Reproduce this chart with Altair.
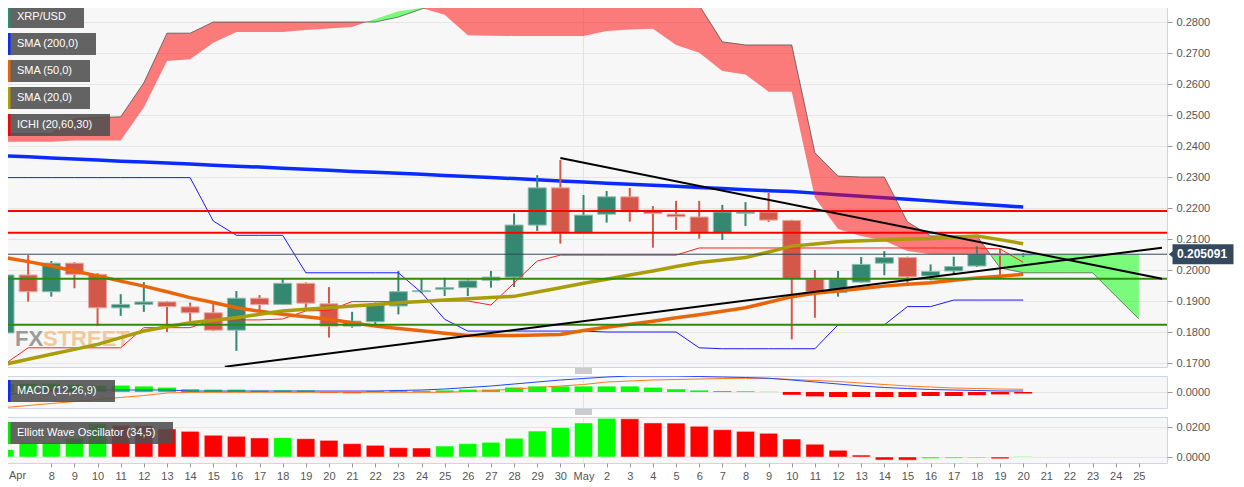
import json
import numpy as np
import pandas as pd
import altair as alt

# ---------------- data (day index 0 = 6 Apr ... 44 = 20 May) ----------------
day_index = list(range(45))
open_ = [0.1797, 0.1984, 0.1930, 0.2022, 0.1986, 0.1878, 0.1889, 0.1897, 0.1881, 0.1862,
         0.1806, 0.1909, 0.1889, 0.1957, 0.1891, 0.1819, 0.1833, 0.1884, 0.1930, 0.1938,
         0.1943, 0.1967, 0.1977, 0.2145, 0.2265, 0.2120, 0.2180, 0.2236, 0.2193, 0.2180,
         0.2171, 0.2120, 0.2183, 0.2187, 0.2160, 0.1970, 0.1927, 0.1961, 0.2022, 0.2040,
         0.1981, 0.1997, 0.2013, 0.2052, 0.2048]
high_ = [0.2000, 0.2048, 0.2029, 0.2025, 0.1990, 0.1922, 0.1961, 0.1899, 0.1895, 0.1897,
         0.1932, 0.1919, 0.1970, 0.1960, 0.1945, 0.1865, 0.1895, 0.1997, 0.1971, 0.1975,
         0.1970, 0.1997, 0.2182, 0.2306, 0.2355, 0.2242, 0.2255, 0.2265, 0.2206, 0.2223,
         0.2223, 0.2210, 0.2219, 0.2249, 0.2162, 0.2000, 0.1997, 0.2042, 0.2061, 0.2043,
         0.2018, 0.2043, 0.2077, 0.2068, 0.2055]
low_ = [0.1790, 0.1898, 0.1914, 0.1941, 0.1819, 0.1852, 0.1865, 0.1800, 0.1830, 0.1803,
        0.1739, 0.1870, 0.1887, 0.1878, 0.1782, 0.1814, 0.1825, 0.1857, 0.1925, 0.1916,
        0.1916, 0.1943, 0.1945, 0.2126, 0.2085, 0.2120, 0.2153, 0.2156, 0.2072, 0.2129,
        0.2101, 0.2097, 0.2142, 0.2155, 0.1776, 0.1846, 0.1914, 0.1959, 0.1983, 0.1959,
        0.1967, 0.1984, 0.2010, 0.1975, 0.2042]
close_ = [0.1984, 0.1930, 0.2022, 0.1986, 0.1878, 0.1889, 0.1897, 0.1882, 0.1862, 0.1806,
          0.1909, 0.1889, 0.1957, 0.1893, 0.1819, 0.1835, 0.1887, 0.1930, 0.1933, 0.1943,
          0.1965, 0.1977, 0.2145, 0.2265, 0.2120, 0.2177, 0.2236, 0.2188, 0.2182, 0.2172,
          0.2120, 0.2187, 0.2187, 0.2161, 0.1972, 0.1930, 0.1970, 0.2018, 0.2040, 0.1978,
          0.1995, 0.2011, 0.2051, 0.2048, 0.205091]

sma200 = [0.2368, 0.2365, 0.2361, 0.2358, 0.2355, 0.2351, 0.2348, 0.2345, 0.2342, 0.2338,
          0.2335, 0.2332, 0.2328, 0.2325, 0.2322, 0.2318, 0.2315, 0.2312, 0.2309, 0.2305,
          0.2302, 0.2298, 0.2295, 0.2291, 0.2287, 0.2284, 0.2280, 0.2277, 0.2273, 0.2270,
          0.2266, 0.2263, 0.2259, 0.2256, 0.2253, 0.2248, 0.2243, 0.2238, 0.2233, 0.2228,
          0.2223, 0.2218, 0.2213, 0.2208, 0.2203]
sma50 = [0.2040, 0.2027, 0.2013, 0.1997, 0.1981, 0.1964, 0.1948, 0.1930, 0.1911, 0.1895,
         0.1878, 0.1867, 0.1857, 0.1849, 0.1841, 0.1830, 0.1819, 0.1811, 0.1804, 0.1796,
         0.1789, 0.1789, 0.1789, 0.1790, 0.1792, 0.1805, 0.1815, 0.1825, 0.1835, 0.1846,
         0.1856, 0.1867, 0.1878, 0.1896, 0.1914, 0.1925, 0.1932, 0.1940, 0.1948, 0.1954,
         0.1959, 0.1967, 0.1974, 0.1980, 0.1986]
sma20 = [0.1696, 0.1712, 0.1728, 0.1744, 0.1760, 0.1782, 0.1803, 0.1817, 0.1830, 0.1838,
         0.1846, 0.1857, 0.1868, 0.1873, 0.1878, 0.1884, 0.1889, 0.1894, 0.1898, 0.1903,
         0.1907, 0.1911, 0.1915, 0.1929, 0.1943, 0.1957, 0.1970, 0.1984, 0.1997, 0.2011,
         0.2024, 0.2032, 0.2040, 0.2058, 0.2077, 0.2084, 0.2091, 0.2094, 0.2097, 0.2100,
         0.2102, 0.2106, 0.2110, 0.2098, 0.2085]
tenkan = [0.1697, 0.1749, 0.1749, 0.1749, 0.1749, 0.1749, 0.1814, 0.1814, 0.1814, 0.1839,
          0.1839, 0.1839, 0.1842, 0.1868, 0.1870, 0.1898, 0.1898, 0.1898, 0.1900, 0.1900,
          0.1900, 0.1887, 0.1958, 0.2029, 0.2048, 0.2048, 0.2048, 0.2048, 0.2048, 0.2048,
          0.2071, 0.2071, 0.2071, 0.2071, 0.2071, 0.2071, 0.2071, 0.2071, 0.2071, 0.2071,
          0.2071, 0.2071, 0.2071, 0.2068, 0.2025]
kijun = [0.2298, 0.2298, 0.2298, 0.2298, 0.2298, 0.2298, 0.2298, 0.2298, 0.2298, 0.2158,
         0.2112, 0.2112, 0.2112, 0.1991, 0.1991, 0.1991, 0.1991, 0.1991, 0.1927, 0.1841,
         0.1803, 0.1803, 0.1803, 0.1803, 0.1803, 0.1803, 0.1800, 0.1800, 0.1800, 0.1800,
         0.1749, 0.1746, 0.1746, 0.1746, 0.1746, 0.1746, 0.1823, 0.1823, 0.1823, 0.1882,
         0.1882, 0.1903, 0.1903, 0.1903, 0.1903]

cloud_index = list(range(50))
span_a = [0.2414, 0.2414, 0.2414, 0.2418, 0.2418, 0.2418, 0.2524, 0.2674, 0.2680, 0.2733,
          0.2768, 0.2768, 0.2768, 0.2774, 0.2779, 0.2784, 0.2810, 0.2835, 0.2845, 0.2823,
          0.2757, 0.2756, 0.2755, 0.2755, 0.2755, 0.2755, 0.2771, 0.2776, 0.2778, 0.2726,
          0.2701, 0.2642, 0.2631, 0.2575, 0.2575, 0.2233, 0.2132, 0.2110, 0.2094, 0.2061,
          0.2051, 0.2051, 0.2051, 0.2051, 0.2051, 0.2051, 0.2051, 0.2051, 0.2051, 0.2051]
span_b = [0.2440, 0.2440, 0.2440, 0.2489, 0.2492, 0.2494, 0.2604, 0.2764, 0.2764, 0.2800,
          0.2800, 0.2800, 0.2800, 0.2800, 0.2800, 0.2800, 0.2800, 0.2816, 0.2842, 0.2865,
          0.2860, 0.2855, 0.2854, 0.2854, 0.2854, 0.2854, 0.2854, 0.2854, 0.2854, 0.2854,
          0.2854, 0.2736, 0.2726, 0.2726, 0.2726, 0.2378, 0.2303, 0.2300, 0.2300, 0.2155,
          0.2110, 0.2110, 0.2110, 0.2007, 0.1991, 0.1991, 0.1991, 0.1991, 0.1916, 0.1842]

macd_line = [-0.00075, 0.0, 0.0005, 0.0005, 0.0005, 0.0005, 0.0005, 0.0005, 0.00025, 0.00025,
             0.00025, 0.00025, 0.00025, 0.00025, 0.00025, 0.00025, 0.00025, 0.000375, 0.0005, 0.00075,
             0.001125, 0.0015, 0.002, 0.0025, 0.003, 0.003375, 0.00375, 0.004, 0.004, 0.004,
             0.003875, 0.00375, 0.003625, 0.003425, 0.003, 0.0025, 0.002, 0.0015, 0.001125, 0.000875,
             0.000625, 0.0005, 0.000375, 0.00025, 0.00025]
macd_signal = [-0.003875, -0.003375, -0.002875, -0.002375, -0.001875, -0.001375, -0.000875, -0.00025, -0.000075, -0.000075,
               -0.000075, -0.000075, -0.000075, -0.000075, -0.000075, -0.000075, -0.000075, -0.000075, -0.000075, -0.000075,
               0.000125, 0.000375, 0.00075, 0.001125, 0.0015, 0.001875, 0.0025, 0.00275, 0.003, 0.003125,
               0.00325, 0.003375, 0.003425, 0.003425, 0.003125, 0.002875, 0.002625, 0.00225, 0.001875, 0.0015,
               0.00125, 0.001, 0.000875, 0.00075, 0.000675]
macd_hist = [0.0020, 0.0021, 0.0021, 0.0018, 0.0016, 0.0016, 0.0014, 0.0011, 0.0007, 0.0006,
             0.0006, 0.0004, 0.0004, 0.0004, -0.0002, -0.0003, 0.0003, 0.0004, 0.0003, 0.0004,
             0.0006, 0.0006, 0.0011, 0.0014, 0.0014, 0.0014, 0.0014, 0.0014, 0.0011, 0.0007,
             0.0004, 0.00025, 0.00018, 0.00005, -0.0007, -0.0011, -0.00125, -0.00125, -0.00125, -0.00125,
             -0.001, -0.001, -0.0008, -0.0006, -0.0004]
ewo = [0.0049, 0.0093, 0.0095, 0.0127, 0.0220, 0.0211, 0.0209, 0.0187, 0.0171, 0.0145,
       0.0138, 0.0127, 0.0129, 0.0122, 0.0111, 0.0089, 0.0078, 0.0062, 0.0060, 0.0073,
       0.0089, 0.0098, 0.0125, 0.0173, 0.0196, 0.0227, 0.0258, 0.0255, 0.0227, 0.0226,
       0.0205, 0.0182, 0.0171, 0.0158, 0.0120, 0.0085, 0.0045, 0.0013, -0.0020, -0.0021,
       -0.0010, -0.0008, -0.0006, -0.0012, 0.0003]

red_levels = [0.2190, 0.2120]
green_levels = [0.1972, 0.1823]
last_price = [0.205091]
trend_start_day = [24, 9.5]
trend_start_val = [0.2361, 0.1688]
trend_end_day = [50, 50]
trend_end_val = [0.1972, 0.2072]
month_start_day = [25]

main_ticks = [0.17, 0.18, 0.19, 0.20, 0.21, 0.22, 0.23, 0.24, 0.25, 0.26, 0.27, 0.28]
macd_ticks = [0.0]
ewo_ticks = [0.0, 0.02]
x_tick_index = list(range(2, 50))
x_tick_labels = ["8", "9", "10", "11", "12", "13", "14", "15", "16", "17", "18", "19", "20",
                 "21", "22", "23", "24", "25", "26", "27", "28", "29", "30", "May", "2", "3",
                 "4", "5", "6", "7", "8", "9", "10", "11", "12", "13", "14", "15", "16", "17",
                 "18", "19", "20", "21", "22", "23", "24", "25"]
first_month_label = ["Apr"]
legend_labels = ["XRP/USD", "SMA (200,0)", "SMA (50,0)", "SMA (20,0)", "ICHI (20,60,30)"]
macd_label = ["MACD (12,26,9)"]
ewo_label = ["Elliott Wave Oscillator (34,5)"]
watermark = ["FX", "STREET"]

# ---------------- styling ----------------
FONT = "Liberation Sans"
UP, DOWN = "#348770", "#d4584a"
W = 1167
H_MAIN, H_MACD, H_EWO = 364, 32, 46

X_SCALE = alt.Scale(domain=[0, 50], nice=False, zero=False)
Y_MAIN = alt.Scale(domain=[0.16871, 0.28613], nice=False, zero=False)
Y_MACD = alt.Scale(domain=[-0.004, 0.004], nice=False, zero=False)
Y_EWO = alt.Scale(domain=[-0.004, 0.026667], nice=False, zero=False)


def right_axis(values):
    return alt.Axis(orient="right", values=values, format=".4f", grid=True, tickSize=5,
                    labelPadding=4, domain=False, labelFont=FONT, labelFontSize=11,
                    labelColor="#555555", tickColor="#999999", gridColor="#e6e6e6")


MAIN_AXIS = right_axis(main_ticks)
MACD_AXIS = right_axis(macd_ticks)
EWO_AXIS = right_axis(ewo_ticks)

label_lookup = [""] * 50
for idx, lab in zip(x_tick_index, x_tick_labels):
    label_lookup[idx] = lab
X_AXIS = alt.Axis(values=x_tick_index, labelExpr=json.dumps(label_lookup) + "[datum.value]",
                  grid=False, domain=False, tickSize=4, labelPadding=3, labelFont=FONT,
                  labelFontSize=11, labelColor="#555555", tickColor="#999999",
                  labelFlush=False, labelOverlap=False)


def X(field="day", axis=None):
    return alt.X(field, type="quantitative", scale=X_SCALE, axis=axis, title=None)


def YM(field):
    return alt.Y(field, type="quantitative", scale=Y_MAIN, axis=MAIN_AXIS, title=None)


def YD(field):
    return alt.Y(field, type="quantitative", scale=Y_MACD, axis=MACD_AXIS, title=None)


def YE(field):
    return alt.Y(field, type="quantitative", scale=Y_EWO, axis=EWO_AXIS, title=None)


def label_box(text, strip_color, x_right, y_top, y_bottom):
    d = pd.DataFrame({"label": [text]})
    base = alt.Chart(d)
    bg = base.mark_rect(color="#4f4f4f", opacity=0.88).encode(
        x=alt.value(5), x2=alt.value(x_right), y=alt.value(y_top), y2=alt.value(y_bottom))
    strip = base.mark_rect(color=strip_color).encode(
        x=alt.value(8), x2=alt.value(10.5), y=alt.value(y_top), y2=alt.value(y_bottom))
    txt = base.mark_text(align="left", baseline="middle", color="white", font=FONT,
                         fontSize=11).encode(
        x=alt.value(17), y=alt.value((y_top + y_bottom) / 2), text="label:N")
    return [bg, strip, txt]


def handle(y_first):
    # small "drag handle" (three grey strokes) drawn between panels
    out = []
    for k in range(3):
        out.append(alt.Chart(pd.DataFrame({"k": [k]})).mark_rule(color="#999999", strokeWidth=1).encode(
            x=alt.value(575), x2=alt.value(592), y=alt.value(y_first + 2 * k)))
    return out


# ---------------- tables ----------------
ohlc = pd.DataFrame({"day": day_index, "open": open_, "high": high_, "low": low_, "close": close_})
ohlc["dir"] = np.where(ohlc["close"] >= ohlc["open"], "rise", "fall")
ind = pd.DataFrame({"day": day_index, "sma200": sma200, "sma50": sma50, "sma20": sma20,
                    "tenkan": tenkan, "kijun": kijun})

pts = []
for k in range(len(cloud_index)):
    a, b = span_a[k], span_b[k]
    pts.append((cloud_index[k], a, b))
    if k + 1 < len(cloud_index):
        d0 = b - a
        d1 = span_b[k + 1] - span_a[k + 1]
        if d0 * d1 < 0:
            t = d0 / (d0 - d1)
            xi = cloud_index[k] + t * (cloud_index[k + 1] - cloud_index[k])
            yi = a + t * (span_a[k + 1] - a)
            pts.append((xi, yi, yi))
cloud = pd.DataFrame(pts, columns=["day", "a", "b"])
cloud["lo"] = cloud[["a", "b"]].min(axis=1)
span_df = pd.DataFrame({"day": cloud_index, "b": span_b})

trend = pd.DataFrame({"d0": trend_start_day, "v0": trend_start_val,
                      "d1": trend_end_day, "v1": trend_end_val})
month_df = pd.DataFrame({"day": month_start_day})
price_df = pd.DataFrame({"price": last_price})

# ---------------- main panel ----------------
main_layers = []
# invisible anchor outside the page so that the layout origin is predictable
main_layers.append(alt.Chart(pd.DataFrame({"k": [0]})).mark_rect(color="#ffffff").encode(
    x=alt.value(-30), x2=alt.value(-29), y=alt.value(-30), y2=alt.value(-29)))
main_layers.append(alt.Chart(month_df).mark_rule(color="#e3e3e3", strokeWidth=1).encode(x=X()))
main_layers.append(alt.Chart(pd.DataFrame({"t": [watermark[0]]})).mark_text(
    align="left", baseline="alphabetic", font=FONT, fontSize=22, fontWeight="bold",
    color="#8c8c8c", opacity=0.85).encode(x=alt.value(15), y=alt.value(343), text="t:N"))
main_layers.append(alt.Chart(pd.DataFrame({"t": [watermark[1]]})).mark_text(
    align="left", baseline="alphabetic", font=FONT, fontSize=22, fontWeight="bold",
    color="#f2c18c", opacity=0.85).encode(x=alt.value(43), y=alt.value(343), text="t:N"))
main_layers.append(alt.Chart(ind).mark_line(color="#0a2bff", strokeWidth=3.5, clip=True).encode(
    x=X(), y=YM("sma200")))
main_layers.append(alt.Chart(cloud).mark_area(color="#ff0000", opacity=0.5, clip=True).encode(
    x=X(), y=YM("b"), y2="lo"))
main_layers.append(alt.Chart(cloud).mark_area(color="#00ff00", opacity=0.5, clip=True).encode(
    x=X(), y=YM("a"), y2="lo"))
main_layers.append(alt.Chart(span_df).mark_line(color="#444444", strokeWidth=1, opacity=0.7, clip=True).encode(
    x=X(), y=YM("b")))
main_layers.append(alt.Chart(ohlc).mark_rule(strokeWidth=2, clip=True).encode(
    x=X(), y=YM("low"), y2="high",
    color=alt.Color("dir:N", scale=alt.Scale(domain=["rise", "fall"], range=[UP, DOWN]), legend=None)))
main_layers.append(alt.Chart(ohlc).mark_bar(size=18, clip=True, strokeWidth=1).encode(
    x=X(), y=YM("open"), y2="close",
    color=alt.Color("dir:N", scale=alt.Scale(domain=["rise", "fall"], range=[UP, DOWN]), legend=None),
    stroke=alt.Stroke("dir:N", scale=alt.Scale(domain=["rise", "fall"], range=["#8cbdae", "#eba79e"]), legend=None)))
main_layers.append(alt.Chart(ind).mark_line(color="#1a1aff", strokeWidth=1, clip=True).encode(
    x=X(), y=YM("kijun")))
main_layers.append(alt.Chart(ind).mark_line(color="#ff2020", strokeWidth=1, clip=True).encode(
    x=X(), y=YM("tenkan")))
main_layers.append(alt.Chart(ind).mark_line(color="#e8650a", strokeWidth=3.5, clip=True).encode(
    x=X(), y=YM("sma50")))
main_layers.append(alt.Chart(ind).mark_line(color="#ab9c09", strokeWidth=3.5, clip=True).encode(
    x=X(), y=YM("sma20")))
main_layers.append(alt.Chart(pd.DataFrame({"level": red_levels})).mark_rule(color="#ff0000", strokeWidth=2).encode(
    y=YM("level")))
main_layers.append(alt.Chart(pd.DataFrame({"level": green_levels})).mark_rule(color="#2f8a0c", strokeWidth=2).encode(
    y=YM("level")))
main_layers.append(alt.Chart(price_df).mark_rule(color="#34495e", strokeWidth=1).encode(
    y=YM("price")))
main_layers.append(alt.Chart(trend).mark_rule(color="#000000", strokeWidth=2, clip=True).encode(
    x=X("d0"), x2="d1", y=YM("v0"), y2="v1"))
legend_strips = ["#2e8b74", "#0a2bff", "#e8650a", "#b0a000", "#ff0000"]
legend_right = [84, 96, 90, 90, 110]
for k, lab in enumerate(legend_labels):
    top = 3 + 27 * k
    main_layers += label_box(lab, legend_strips[k], legend_right[k], top, top + 22)
main_layers.append(alt.Chart(price_df).mark_point(
    shape="M-1,-0.33L1,-0.33L1,0.33L-1,0.33L-1,0.1L-1.12,0L-1,-0.1Z", size=3721,
    filled=True, color="#34495e", opacity=1).encode(x=alt.value(W + 36), y=YM("price")))
main_layers.append(alt.Chart(price_df).mark_text(
    align="left", baseline="middle", font=FONT, fontSize=12, fontWeight="bold", color="white").encode(
    x=alt.value(W + 10), y=YM("price"), text=alt.Text("price:Q", format=".6f")))
main = alt.layer(*main_layers).properties(width=W, height=H_MAIN)

# ---------------- MACD panel ----------------
macd_df = pd.DataFrame({"day": day_index, "macd": macd_line, "signal": macd_signal, "hist": macd_hist})
macd_df["sign"] = np.where(macd_df["hist"] >= 0, "pos", "neg")
macd_layers = [
    alt.Chart(month_df).mark_rule(color="#e3e3e3", strokeWidth=1).encode(x=X()),
    alt.Chart(macd_df).mark_bar(size=18, clip=True).encode(
        x=X(), y=YD("hist"), y2=alt.datum(0),
        color=alt.Color("sign:N", scale=alt.Scale(domain=["pos", "neg"], range=["#00ff00", "#ff0000"]), legend=None)),
    alt.Chart(macd_df).mark_line(color="#ff7a1a", strokeWidth=1, clip=True).encode(x=X(), y=YD("signal")),
    alt.Chart(macd_df).mark_line(color="#2244ff", strokeWidth=1, clip=True).encode(x=X(), y=YD("macd")),
] + label_box(macd_label[0], "#0a2bff", 115, 4, 26) + handle(-7) + handle(H_MACD + 2)
macd = alt.layer(*macd_layers).properties(width=W, height=H_MACD)

# ---------------- EWO panel ----------------
ewo_df = pd.DataFrame({"day": day_index, "ewo": ewo})
ewo_df["trend"] = np.where(ewo_df["ewo"].diff().fillna(1) >= 0, "up", "down")
ewo_layers = [
    alt.Chart(month_df).mark_rule(color="#e3e3e3", strokeWidth=1).encode(x=X("day", X_AXIS)),
    alt.Chart(ewo_df).mark_bar(size=18, clip=True, stroke="#ffffff", strokeOpacity=0.45, strokeWidth=1).encode(
        x=X("day", X_AXIS), y=YE("ewo"), y2=alt.datum(0),
        color=alt.Color("trend:N", scale=alt.Scale(domain=["up", "down"], range=["#00ff00", "#ff0000"]), legend=None)),
] + label_box(ewo_label[0], "#00ee00", 173, 5, 27) + [
    alt.Chart(pd.DataFrame({"t": first_month_label})).mark_text(
        align="left", baseline="top", font=FONT, fontSize=11, color="#555555").encode(
        x=alt.value(9), y=alt.value(H_EWO + 7), text="t:N")
]
ewo_chart = alt.layer(*ewo_layers).properties(width=W, height=H_EWO)

chart = alt.vconcat(main, macd, ewo_chart, spacing=9).resolve_scale(
    color="independent", stroke="independent"
).properties(
    bounds="flush",
    padding={"left": -39, "top": -36, "right": 0, "bottom": 2},
    background="#ffffff",
).configure_view(fill="#f7f7f7", stroke="#ccd6eb", strokeWidth=1)

chart.save("out.html", embed_options={"renderer": "svg", "actions": False})
